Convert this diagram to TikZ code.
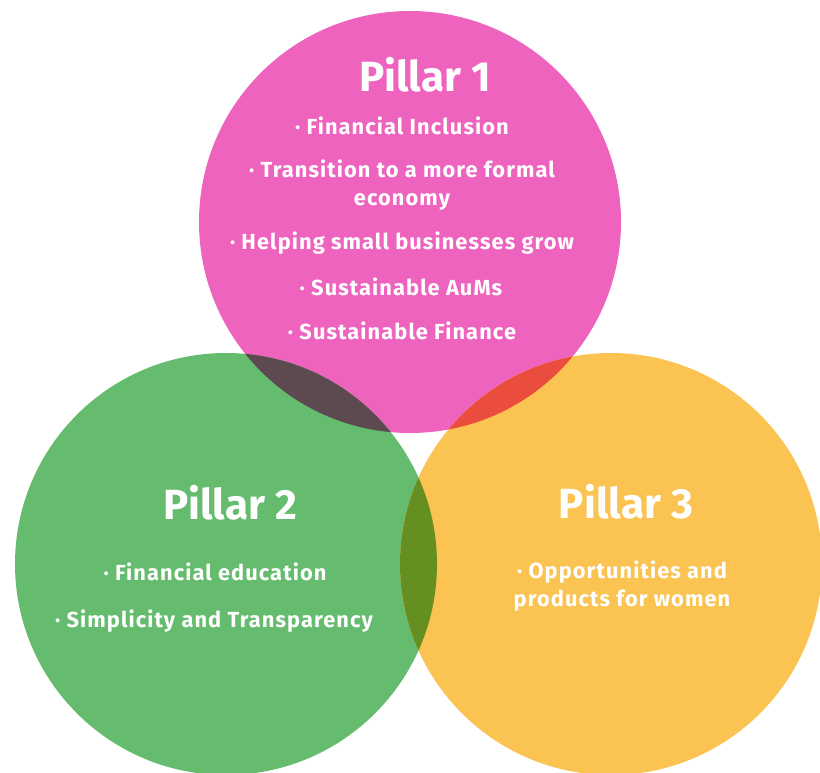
\documentclass[tikz,border=0pt]{standalone}
\usepackage{fontspec}
\setmainfont{Fira Sans}
\newfontfamily\pointfont[LetterSpace=5]{Fira Sans}
\usetikzlibrary{positioning}

\definecolor{pinkP}{HTML}{EE63BE}
\definecolor{greenP}{HTML}{66BC6E}
\definecolor{orangeP}{HTML}{FBC352}
\definecolor{pinkgreen}{HTML}{5D4A50}
\definecolor{pinkorange}{HTML}{EA4C3D}
\definecolor{greenorange}{HTML}{668F22}

\tikzset{
  pillar/.style={text=white,font=\bfseries\fontsize{30}{34}\selectfont},
  point/.style={text=white,align=center,font=\pointfont\bfseries\fontsize{15.5}{20}\selectfont}
}

\begin{document}
\begin{tikzpicture}[x=0.025cm,y=0.025cm]
\useasboundingbox (0,0) rectangle (820,772);
% circles
\coordinate (c1) at (410,550);
\coordinate (c2) at (226,208);
\coordinate (c3) at (611,208);
\fill[pinkP] (c1) circle (211);
\fill[greenP] (c2) circle (211);
\fill[orangeP] (c3) circle (211);
% overlaps
\begin{scope}
\clip (c1) circle (211);
\fill[pinkgreen] (c2) circle (211);
\fill[pinkorange] (c3) circle (211);
\end{scope}
\begin{scope}
\clip (c2) circle (211);
\fill[greenorange] (c3) circle (211);
\end{scope}
% pillar 1
\node[pillar] (p1) at (425,697) {Pillar 1};
\node[point] (p1a) at (402,646) {· Financial Inclusion};
\node[point] (p1b) at (402,587) {· Transition to a more formal\\economy};
\node[point] (p1c) at (402,529) {· Helping small businesses grow};
\node[point] (p1d) at (401,485) {· Sustainable AuMs};
\node[point] (p1e) at (402,441) {· Sustainable Finance};
% pillar 2
\node[pillar] (p2) at (230,269) {Pillar 2};
\node[point] (p2a) at (215,200) {· Financial education};
\node[point] (p2b) at (214,151) {· Simplicity and Transparency};
% pillar 3
\node[pillar] (p3) at (626,270) {Pillar 3};
\node[point] (p3a) at (622,186) {· Opportunities and\\products for women};
\end{tikzpicture}
\end{document}
